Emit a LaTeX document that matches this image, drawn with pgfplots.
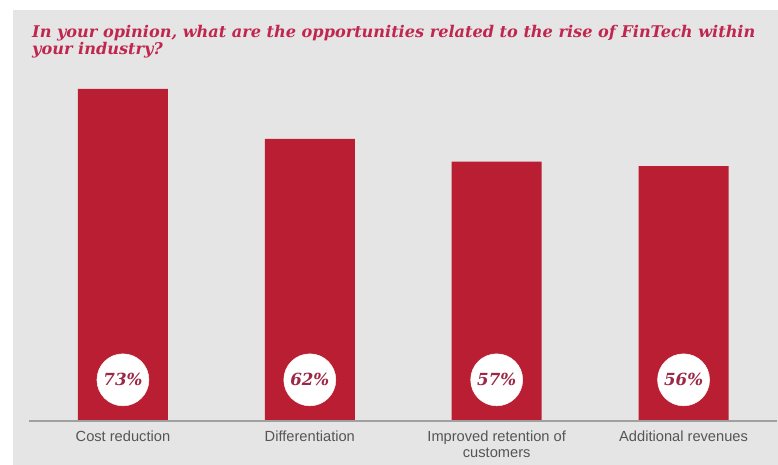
\documentclass[border=0pt]{standalone}
\usepackage{pgfplots}
\pgfplotsset{compat=1.18}
\usepackage{fontspec}
\setmainfont{DejaVu Serif}
\newfontfamily\labfont{Liberation Sans}
\definecolor{bgray}{RGB}{229,229,229}
\definecolor{barred}{RGB}{186,30,50}
\definecolor{titlered}{RGB}{192,38,78}
\definecolor{pctred}{RGB}{155,40,70}
\definecolor{labgray}{RGB}{85,85,85}
\definecolor{basegray}{RGB}{160,160,160}
\begin{document}
\begin{tikzpicture}
\fill[white] (0,0) rectangle (583.5pt,348.75pt);
\fill[bgray] (9.75pt,0) rectangle (583.5pt,341.25pt);
\node[anchor=base west, text=titlered, align=left, font=\fontsize{12.1}{12.5}\selectfont\bfseries\itshape, inner sep=0pt]
  at (24pt,307.8pt) {In your opinion, what are the opportunities related to the rise of FinTech within\\your industry?};
\begin{axis}[
  at={(92.25pt,33pt)}, anchor=origin,
  scale only axis, width=561pt, height=272.9pt,
  xmin=-0.5, xmax=3.5, ymin=0, ymax=80,
  axis line style={draw=none},
  axis x line=bottom, axis y line=none,
  xtick={0,1,2,3}, xtick style={draw=none},
  xticklabels={Cost reduction, Differentiation, {Improved retention of\\customers}, Additional revenues},
  xticklabel style={font=\labfont\fontsize{11}{12}\selectfont, text=labgray, align=center, yshift=-2pt},
  ytick=\empty,
  clip=false,
]
\addplot[ybar, bar width=67.5pt, fill=barred, draw=none] coordinates {(0,73) (1,62) (2,57) (3,56)};
\draw[basegray, line width=1.5pt] (axis cs:-0.5,0) -- (axis cs:3.5,0);
\addplot[only marks, mark=*, mark size=19.5pt, mark options={fill=white, draw=white!85!pink},
  point meta=explicit,
  nodes near coords={\pgfmathprintnumber[assume math mode=true]{\pgfplotspointmeta}\%},
  every node near coord/.append style={anchor=center, text=pctred, font=\fontsize{12.5}{12.5}\selectfont\bfseries\itshape}]
  coordinates {(0,9) [73] (1,9) [62] (2,9) [57] (3,9) [56]};
\end{axis}
\end{tikzpicture}
\end{document}
